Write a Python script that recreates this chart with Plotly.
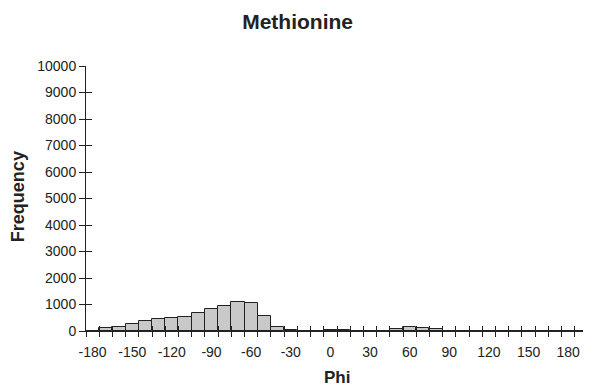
import plotly.graph_objects as go

# Data: Phi bins (category centers, degrees) and frequencies
phi_bins = list(range(-180, 200, 10))  # -180 ... 190
frequency = [0, 100, 150, 270, 365, 440, 490, 530, 680, 820, 960, 1090, 1040, 550,
             160, 50, 10, 0, 30, 20, 0, 0, 10, 80, 165, 130, 75, 10,
             0, 0, 0, 0, 0, 0, 0, 0, 0, 0]
x_label_vals = list(range(-180, 181, 30))
x_label_text = [str(v) for v in x_label_vals]
y_tick_vals = list(range(0, 10001, 1000))
y_tick_text = [str(v) for v in y_tick_vals]
bin_edges = list(range(-175, 196, 10))

FONT = "Liberation Sans, Arial, sans-serif"
INK = "#222222"

fig = go.Figure()
fig.add_trace(go.Bar(
    x=phi_bins, y=frequency, width=10,
    marker=dict(color="#c9c9c9", line=dict(color=INK, width=1)),
    showlegend=False, hoverinfo="x+y",
))
# invisible trace to anchor the overlay axes (for crossing tick marks)
fig.add_trace(go.Scatter(x=[phi_bins[0]], y=[0], xaxis="x2", yaxis="y2",
                         mode="markers", marker=dict(opacity=0), showlegend=False,
                         hoverinfo="skip"))

fig.update_layout(
    width=591, height=389,
    margin=dict(l=78, r=11, t=58, b=66, autoexpand=False),
    paper_bgcolor="white", plot_bgcolor="white",
    font=dict(family=FONT, size=14, color=INK),
    title=dict(text="<b>Methionine</b>", x=0.49, xanchor="center", xref="container",
               y=0.966, yanchor="middle",
               font=dict(size=21, color=INK)),
    bargap=0,
    xaxis=dict(
        range=[-185, 195], showgrid=False, zeroline=False, automargin=False,
        showline=True, linecolor=INK, linewidth=1,
        tickmode="array", tickvals=x_label_vals, ticktext=x_label_text, ticks="", ticklen=0,
        tickfont=dict(size=14, color=INK),
        minor=dict(ticks="outside", tick0=-175, dtick=10, ticklen=5, tickcolor=INK, tickwidth=1),
        ticklabelstandoff=8,
    ),
    xaxis2=dict(
        range=[-185, 195], overlaying="x", anchor="y", side="bottom", automargin=False,
        showgrid=False, zeroline=False, showline=False, showticklabels=False,
        tickmode="array", tickvals=bin_edges, ticks="inside", ticklen=5,
        tickcolor=INK, tickwidth=1,
    ),
    yaxis=dict(
        range=[0, 10000], showgrid=False, zeroline=False, automargin=False,
        showline=True, linecolor=INK, linewidth=1,
        tickmode="array", tickvals=y_tick_vals, ticktext=y_tick_text, ticks="outside", ticklen=6,
        tickcolor=INK, tickwidth=1, tickfont=dict(size=14, color=INK),
        ticklabelstandoff=0,
    ),
    yaxis2=dict(
        range=[0, 10000], overlaying="y", anchor="x", side="left", automargin=False,
        showgrid=False, zeroline=False, showline=False, showticklabels=False,
        tickmode="array", tickvals=y_tick_vals, ticks="inside", ticklen=6,
        tickcolor=INK, tickwidth=1,
    ),
    annotations=[
        dict(text="<b>Phi</b>", xref="paper", yref="paper", x=0.5, y=-0.177,
             xanchor="center", yanchor="middle", showarrow=False,
             font=dict(size=17, color=INK)),
        dict(text="<b>Frequency</b>", xref="paper", yref="paper", x=-0.135, y=0.506,
             xanchor="center", yanchor="middle", showarrow=False, textangle=-90,
             font=dict(size=18, color=INK)),
    ],
)

fig.write_html("out.html")
